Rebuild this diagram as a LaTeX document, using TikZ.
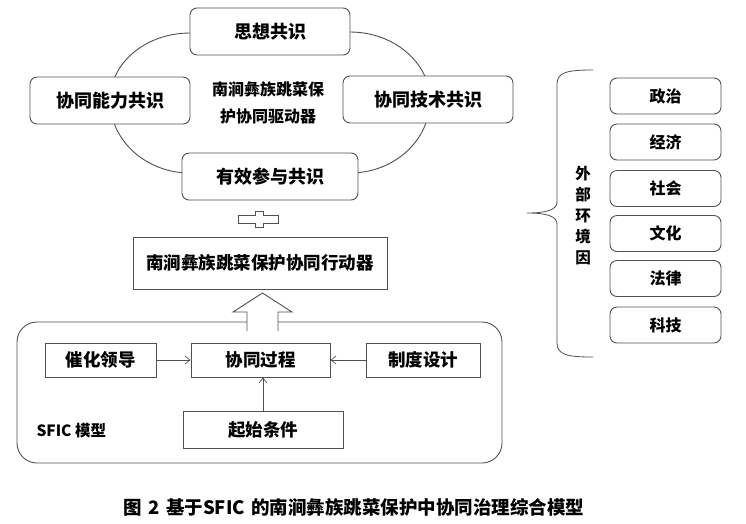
\documentclass[tikz,border=0pt]{standalone}
\usepackage{fontspec}
\setmainfont{Noto Sans CJK SC}
\usetikzlibrary{arrows.meta,calc}
\definecolor{ln}{HTML}{505050}
\tikzset{
  rbox/.style={draw=ln,line width=0.9pt,fill=white,rounded corners=7pt,inner sep=0pt,align=center,font=\fontsize{18}{21}\selectfont\bfseries},
  sbox/.style={draw=ln,line width=0.9pt,fill=white,inner sep=0pt,align=center,font=\fontsize{17.5}{20}\selectfont\bfseries},
  envbox/.style={draw=ln,line width=0.9pt,fill=white,rounded corners=7pt,inner sep=0pt,minimum width=111pt,minimum height=36pt,font=\fontsize{16}{18}\selectfont\bfseries},
  thinarr/.style={draw=ln,line width=0.7pt,-{Straight Barb[length=5pt,width=8pt]}},
  outl/.style={draw=ln,line width=0.9pt}
}
\begin{document}
\begin{tikzpicture}[x=1pt,y=-1pt]
\fill[white] (0,0) rectangle (746,523);
\useasboundingbox (0,0) rectangle (746,523);
% ring behind consensus boxes
\draw[outl] (190,33) .. controls (145.8,33) and (110,63) .. (110,100)
  .. controls (110,140.3) and (145.8,173) .. (190,173) -- (350,173)
  .. controls (394.2,173) and (430,140.3) .. (430,100)
  .. controls (430,63) and (394.2,32) .. (350,32) -- cycle;
\node[rbox,minimum width=160pt,minimum height=47pt] (sx) at (270,31.5) {思想共识};
\node[rbox,minimum width=160pt,minimum height=47pt] (nl) at (110,100.5) {协同能力共识};
\node[rbox,minimum width=170pt,minimum height=47pt] (js) at (428,99.5) {协同技术共识};
\node[rbox,minimum width=176pt,minimum height=47pt] (cy) at (270,176.5) {有效参与共识};
\node[align=center,font=\fontsize{16}{27}\selectfont\bfseries] (qd) at (268,103) {南涧彝族跳菜保\\护协同驱动器};
% plus-shaped connector
\coordinate (pl) at (259,219);
\draw[outl,fill=white] (255,211) -- (263,211) -- (263,215) -- (278,215) -- (278,223) -- (263,223) -- (263,227) -- (255,227) -- (255,223) -- (238,223) -- (238,215) -- (255,215) -- cycle;
% action box
\node[sbox,minimum width=254pt,minimum height=52pt] (xd) at (260,263) {南涧彝族跳菜保护协同行动器};
% SFIC frame
\draw[outl,rounded corners=20pt] (17,322) rectangle (502,463);
\node[font=\fontsize{15.5}{18}\selectfont\bfseries,anchor=west] (sfic) at (33,431) {SFIC 模型};
% block arrow
\fill[white] (247,331) -- (247,312) -- (233,312) -- (262.5,293) -- (292,312) -- (278,312) -- (278,331) -- cycle;
\draw[outl,line join=miter] (247,331) -- (247,312) -- (233,312) -- (262.5,293) -- (292,312) -- (278,312) -- (278,331);
\node[sbox,minimum width=111pt,minimum height=34pt] (ch) at (100.5,360) {催化领导};
\node[sbox,minimum width=139pt,minimum height=34pt] (gc) at (260.5,360) {协同过程};
\node[sbox,minimum width=114pt,minimum height=34pt] (zd) at (423,360) {制度设计};
\node[sbox,minimum width=160pt,minimum height=37pt] (qs) at (263,429.5) {起始条件};
\draw[thinarr] (ch.east) -- (gc.west);
\draw[thinarr] (zd.west) -- (gc.east);
\draw[thinarr] (qs.north) -- (qs.north |- gc.south);
% brace
\draw[outl,line width=0.8pt] (593,70) .. controls (568,70) and (557,72) .. (557,84) -- (557,202)
  .. controls (557,210) and (546,213) .. (527,213)
  .. controls (546,213) and (557,216) .. (557,224) -- (557,343)
  .. controls (557,355) and (568,357) .. (593,357);
\node[align=center,font=\fontsize{15.5}{21}\selectfont\bfseries] (wb) at (583,216) {外\\部\\环\\境\\因};
% environment boxes
\node[envbox] (zz) at (665.5,96) {政治};
\node[envbox] (jj) at (665.5,142) {经济};
\node[envbox] (sh) at (665.5,188.5) {社会};
\node[envbox] (wh) at (665.5,233.5) {文化};
\node[envbox] (fl) at (665.5,278.5) {法律};
\node[envbox] (kj) at (665.5,325) {科技};
% caption
\node[font=\fontsize{18.5}{22}\selectfont\bfseries] (cap) at (354,507) {图\,\,2\,\,基于SFIC\,\,的南涧彝族跳菜保护中协同治理综合模型};
\end{tikzpicture}
\end{document}
